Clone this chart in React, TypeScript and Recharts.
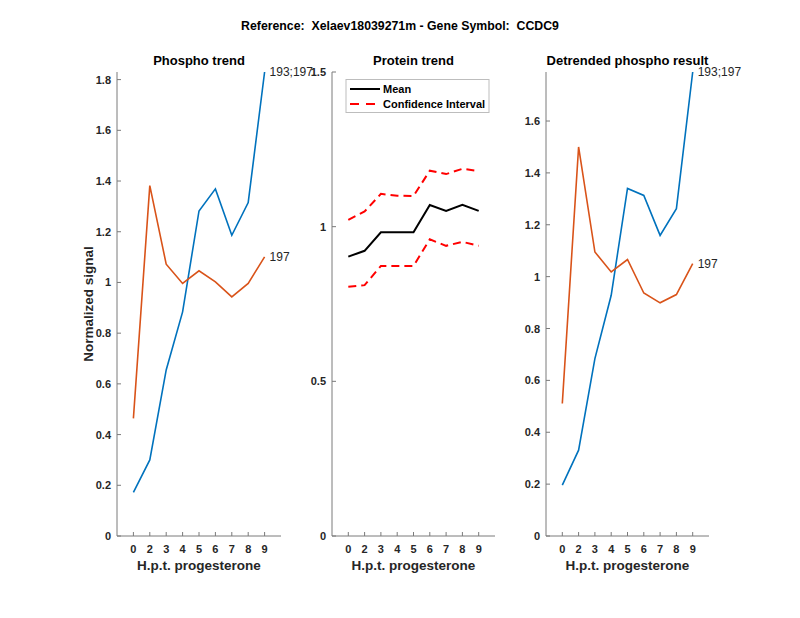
import React from "react";
import { LineChart, Line, XAxis, YAxis, LabelList } from "recharts";

const HOURS = ["0", "2", "3", "4", "5", "6", "7", "8", "9"];

const PHOSPHO_193_197 = [0.172, 0.3, 0.655, 0.884, 1.282, 1.369, 1.186, 1.315, 1.83];
const PHOSPHO_197 = [0.464, 1.382, 1.072, 0.996, 1.046, 1.002, 0.943, 0.996, 1.101];

const PROTEIN_MEAN = [0.903, 0.922, 0.982, 0.982, 0.982, 1.07, 1.051, 1.071, 1.051];
const PROTEIN_UPPER = [1.022, 1.049, 1.106, 1.1, 1.099, 1.181, 1.17, 1.187, 1.18];
const PROTEIN_LOWER = [0.806, 0.811, 0.873, 0.873, 0.873, 0.959, 0.938, 0.951, 0.938];

const DETRENDED_193_197 = [0.196, 0.331, 0.684, 0.928, 1.34, 1.313, 1.159, 1.262, 1.789];
const DETRENDED_197 = [0.511, 1.5, 1.095, 1.018, 1.066, 0.937, 0.899, 0.931, 1.05];

const TICKS_PHOSPHO = [0, 0.2, 0.4, 0.6, 0.8, 1, 1.2, 1.4, 1.6, 1.8];
const TICKS_PROTEIN = [0, 0.5, 1, 1.5];
const TICKS_DETRENDED = [0, 0.2, 0.4, 0.6, 0.8, 1, 1.2, 1.4, 1.6];
const X_POSITIONS = HOURS.map((_, i) => i + 1);

const phosphoRows = HOURS.map((h, i) => ({
  pos: i + 1,
  hour: h,
  a: PHOSPHO_193_197[i],
  b: PHOSPHO_197[i],
}));
const proteinRows = HOURS.map((h, i) => ({
  pos: i + 1,
  hour: h,
  mean: PROTEIN_MEAN[i],
  upper: PROTEIN_UPPER[i],
  lower: PROTEIN_LOWER[i],
}));
const detrendedRows = HOURS.map((h, i) => ({
  pos: i + 1,
  hour: h,
  a: DETRENDED_193_197[i],
  b: DETRENDED_197[i],
}));

const FONT = '"Liberation Sans", Arial, Helvetica, sans-serif';
const TEXT = "#262626";
const AXIS = "#7a7a7a";
const BLUE = "#0072BD";
const ORANGE = "#D95319";

const W = 800;
const H = 618;
const TOP = 72;
const BOTTOM = 536;
const Y_AXIS_W = 40;
const X_AXIS_H = 30;

function XTick(props: any) {
  const { x, y, payload } = props;
  return (
    <g>
      <line x1={x} x2={x} y1={y} y2={y - 4} stroke={AXIS} strokeWidth={1} />
      <text x={x} y={y + 17} textAnchor="middle" fontFamily={FONT} fontSize={11} fontWeight="bold" fill={TEXT}>
        {HOURS[payload.value - 1]}
      </text>
    </g>
  );
}

function YTick(props: any) {
  const { x, y, payload } = props;
  const label = String(Math.round(payload.value * 10) / 10);
  return (
    <g>
      <line x1={x} x2={x + 4} y1={y} y2={y} stroke={AXIS} strokeWidth={1} />
      <text x={x - 6} y={y + 4} textAnchor="end" fontFamily={FONT} fontSize={11} fontWeight="bold" fill={TEXT}>
        {label}
      </text>
    </g>
  );
}

function endLabel(text: string, count: number) {
  return (p: any) => {
    if (p.index !== count - 1) return null;
    return (
      <text x={p.x + 5} y={p.y + 4} fontFamily={FONT} fontSize={12} fill={TEXT}>
        {text}
      </text>
    );
  };
}

function Panel({
  left,
  right,
  rows,
  ticks,
  domain,
  children,
}: {
  left: number;
  right: number;
  rows: any[];
  ticks: number[];
  domain: any;
  children: React.ReactNode;
}) {
  return (
    <div style={{ position: "absolute", left: 0, top: 0 }}>
      <LineChart
        width={W}
        height={H}
        data={rows}
        margin={{ top: TOP, bottom: H - BOTTOM - X_AXIS_H, left: left - Y_AXIS_W, right: W - right }}
      >
        <XAxis
          dataKey="pos"
          type="number"
          domain={[0, 10]}
          ticks={X_POSITIONS}
          interval={0}
          height={X_AXIS_H}
          tickSize={0}
          tickMargin={0}
          tickLine={false}
          axisLine={{ stroke: AXIS }}
          tick={<XTick />}
        />
        <YAxis
          type="number"
          domain={domain}
          ticks={ticks}
          interval={0}
          width={Y_AXIS_W}
          tickSize={0}
          tickMargin={0}
          tickLine={false}
          axisLine={{ stroke: AXIS }}
          tick={<YTick />}
        />
        {children}
      </LineChart>
    </div>
  );
}

export default function App() {
  const n = HOURS.length;
  return (
    <div style={{ position: "absolute", left: 0, top: 0, width: W, height: H, background: "#fff" }}>
      <Panel left={117} right={281} rows={phosphoRows} ticks={TICKS_PHOSPHO} domain={[0, "dataMax"]}>
        <Line dataKey="a" stroke={BLUE} strokeWidth={1.6} dot={false} isAnimationActive={false}>
          <LabelList dataKey="a" content={endLabel("193;197", n)} />
        </Line>
        <Line dataKey="b" stroke={ORANGE} strokeWidth={1.6} dot={false} isAnimationActive={false}>
          <LabelList dataKey="b" content={endLabel("197", n)} />
        </Line>
      </Panel>
      <Panel left={332} right={495} rows={proteinRows} ticks={TICKS_PROTEIN} domain={[0, 1.5]}>
        <Line dataKey="upper" stroke="#ff0000" strokeWidth={2} strokeDasharray="8 5" dot={false} isAnimationActive={false} />
        <Line dataKey="lower" stroke="#ff0000" strokeWidth={2} strokeDasharray="8 5" dot={false} isAnimationActive={false} />
        <Line dataKey="mean" stroke="#000" strokeWidth={2} dot={false} isAnimationActive={false} />
      </Panel>
      <Panel left={546} right={709} rows={detrendedRows} ticks={TICKS_DETRENDED} domain={[0, "dataMax"]}>
        <Line dataKey="a" stroke={BLUE} strokeWidth={1.6} dot={false} isAnimationActive={false}>
          <LabelList dataKey="a" content={endLabel("193;197", n)} />
        </Line>
        <Line dataKey="b" stroke={ORANGE} strokeWidth={1.6} dot={false} isAnimationActive={false}>
          <LabelList dataKey="b" content={endLabel("197", n)} />
        </Line>
      </Panel>

      <svg
        width={W}
        height={H}
        style={{ position: "absolute", left: 0, top: 0, pointerEvents: "none" }}
        fontFamily={FONT}
        fill={TEXT}
      >
        <text x={400} y={30} textAnchor="middle" fontSize={12.3} fontWeight="bold" fill="#000" xmlSpace="preserve">
          Reference:  Xelaev18039271m - Gene Symbol:  CCDC9
        </text>

        <text x={199} y={65} textAnchor="middle" fontSize={13} fontWeight="bold" fill="#000">Phospho trend</text>
        <text x={413.5} y={65} textAnchor="middle" fontSize={13} fontWeight="bold" fill="#000">Protein trend</text>
        <text x={627.5} y={65} textAnchor="middle" fontSize={13} fontWeight="bold" fill="#000">Detrended phospho result</text>

        <text x={199} y={570} textAnchor="middle" fontSize={13.5} fontWeight="bold">H.p.t. progesterone</text>
        <text x={413.5} y={570} textAnchor="middle" fontSize={13.5} fontWeight="bold">H.p.t. progesterone</text>
        <text x={627.5} y={570} textAnchor="middle" fontSize={13.5} fontWeight="bold">H.p.t. progesterone</text>

        <text x={93} y={304} textAnchor="middle" fontSize={13.5} fontWeight="bold" transform="rotate(-90 93 304)">
          Normalized signal
        </text>

        <rect x={346} y={79.5} width={143} height={33} fill="#fff" stroke="#bdbdbd" strokeWidth={1} />
        <line x1={350} x2={380} y1={89} y2={89} stroke="#000" strokeWidth={2} />
        <text x={383} y={93} fontSize={11} fontWeight="bold" fill="#000">Mean</text>
        <line x1={350} x2={380} y1={104} y2={104} stroke="#ff0000" strokeWidth={2} strokeDasharray="9 7" />
        <text x={383} y={108} fontSize={11} fontWeight="bold" fill="#000">Confidence Interval</text>
      </svg>
    </div>
  );
}
